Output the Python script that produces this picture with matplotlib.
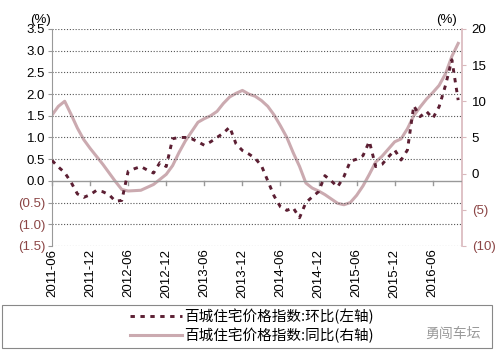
import matplotlib
matplotlib.use("Agg")
import matplotlib.pyplot as plt
from matplotlib.ticker import FuncFormatter
from matplotlib.patches import Rectangle
import numpy as np

plt.rcParams['font.family'] = ['Liberation Sans', 'Noto Sans CJK SC', 'DejaVu Sans']

# --- Data (monthly, 2011-06 .. 2016-10) ---
mom = [0.47, 0.32, 0.19, -0.03, -0.30, -0.38, -0.32, -0.22, -0.25, -0.32,
       -0.47, -0.45, 0.22, 0.28, 0.33, 0.25, 0.18, 0.42, 0.33, 0.97,
       1.00, 1.00, 0.97, 0.90, 0.82, 0.90, 1.00, 1.10, 1.24, 0.85,
       0.70, 0.62, 0.52, 0.35, 0.00, -0.35, -0.60, -0.68, -0.62, -0.85,
       -0.50, -0.37, -0.25, 0.12, 0.00, -0.14, 0.10, 0.45, 0.50, 0.58,
       0.91, 0.33, 0.38, 0.55, 0.71, 0.48, 0.71, 1.73, 1.48, 1.60,
       1.44, 1.71, 2.20, 2.79, 1.86]

yoy = [8.1, 9.3, 10.0, 8.2, 6.3, 4.7, 3.5, 2.4, 1.3, 0.1,
       -1.1, -2.2, -2.4, -2.35, -2.3, -1.9, -1.5, -0.8, -0.1, 1.1,
       2.9, 4.5, 5.8, 7.1, 7.6, 8.0, 8.6, 9.7, 10.6, 11.1,
       11.5, 11.0, 10.7, 10.1, 9.3, 8.1, 6.6, 5.0, 2.9, 1.0,
       -1.3, -2.0, -2.4, -2.9, -3.5, -4.1, -4.3, -4.0, -3.0, -1.7,
       -0.1, 1.6, 2.4, 3.4, 4.4, 4.8, 6.2, 8.0, 9.2, 10.3,
       11.2, 12.2, 13.8, 16.2, 18.0]

tick_labels = ["2011-06", "2011-12", "2012-06", "2012-12", "2013-06", "2013-12",
               "2014-06", "2014-12", "2015-06", "2015-12", "2016-06"]

label_mom = "百城住宅价格指数:环比(左轴)"
label_yoy = "百城住宅价格指数:同比(右轴)"

dark_red = "#5c1f33"
pink_gray = "#cbaab0"
neg_color = "#8b4545"

x = np.arange(len(mom))

fig = plt.figure(figsize=(5.0, 3.57), dpi=100)
ax = fig.add_axes([0.104, 0.311, 0.82, 0.608])
ax2 = ax.twinx()

# grid lines from left axis
for v in np.arange(-1.5, 3.51, 0.5):
    if abs(v) > 1e-9:
        ax.axhline(v, color="#555555", lw=0.8, ls=(0, (1, 1.6)), zorder=0)
ax.axhline(0, color="#999999", lw=1.0, zorder=1)

ln1, = ax.plot(x, mom, color=dark_red, lw=2.1, ls=(0, (1.5, 1.9)), zorder=3)
ln2, = ax2.plot(x, yoy, color=pink_gray, lw=2.2, zorder=2)

ax.set_zorder(ax2.get_zorder() + 1)
ax.patch.set_visible(False)

ax.set_xlim(0, 64.6)
ax.set_ylim(-1.5, 3.5)
ax2.set_ylim(-10, 20)

ax.set_yticks(np.arange(-1.5, 3.51, 0.5))
ax.yaxis.set_major_formatter(FuncFormatter(
    lambda v, p: "(%.1f)" % abs(v) if v < -1e-9 else "%.1f" % abs(v)))
ax2.set_yticks(np.arange(-10, 21, 5))
ax2.yaxis.set_major_formatter(FuncFormatter(
    lambda v, p: "(%d)" % abs(v) if v < 0 else "%d" % v))

fig.canvas.draw()
for lab in ax.get_yticklabels() + ax2.get_yticklabels():
    if lab.get_text().startswith("("):
        lab.set_color(neg_color)

# x ticks every 6 months, ticks on zero line, labels at bottom
tick_pos = np.arange(0, 61, 6)
ax.set_xticks([])
for p in tick_pos:
    ax.plot([p, p], [0, -0.1], color="#999999", lw=1.0, zorder=1, clip_on=False)
for p, t in zip(tick_pos, tick_labels):
    ax.text(p, -1.56, t, rotation=90, ha="center", va="top", fontsize=9.5)

ax.tick_params(axis="y", labelsize=9.5, length=3, color="#999999", pad=2)
ax2.tick_params(axis="y", labelsize=9.5, length=3, color="#d9b8bc", pad=4)

for s in ["top", "bottom"]:
    ax.spines[s].set_visible(False)
    ax2.spines[s].set_visible(False)
ax.spines["right"].set_visible(False)
ax2.spines["left"].set_visible(False)
ax.spines["left"].set_color("#999999")
ax2.spines["right"].set_color("#d9b8bc")
ax2.spines["right"].set_linewidth(1.2)

fig.text(0.06, 0.945, "(%)", fontsize=9.5, ha="left", va="center")
fig.text(0.872, 0.945, "(%)", fontsize=9.5, ha="left", va="center")

# legend box
fig.patches.append(Rectangle((0.004, 0.025), 0.98, 0.122, transform=fig.transFigure,
                             fill=False, edgecolor="#888888", lw=0.8))
leg = fig.legend([ln1, ln2], [label_mom, label_yoy], loc="center left",
                 bbox_to_anchor=(0.245, 0.086), frameon=False, handlelength=3.6,
                 labelspacing=0.25, borderpad=0.0, handletextpad=0.15,
                 prop={'family': ['Noto Sans CJK SC', 'DejaVu Sans'], 'size': 10.5})

fig.text(0.905, 0.065, "勇闯车坛", fontsize=10, color="#9a9a9a",
         family=['Noto Sans CJK SC', 'DejaVu Sans'], ha="center", va="center")

fig.savefig("out.png", dpi=100)
